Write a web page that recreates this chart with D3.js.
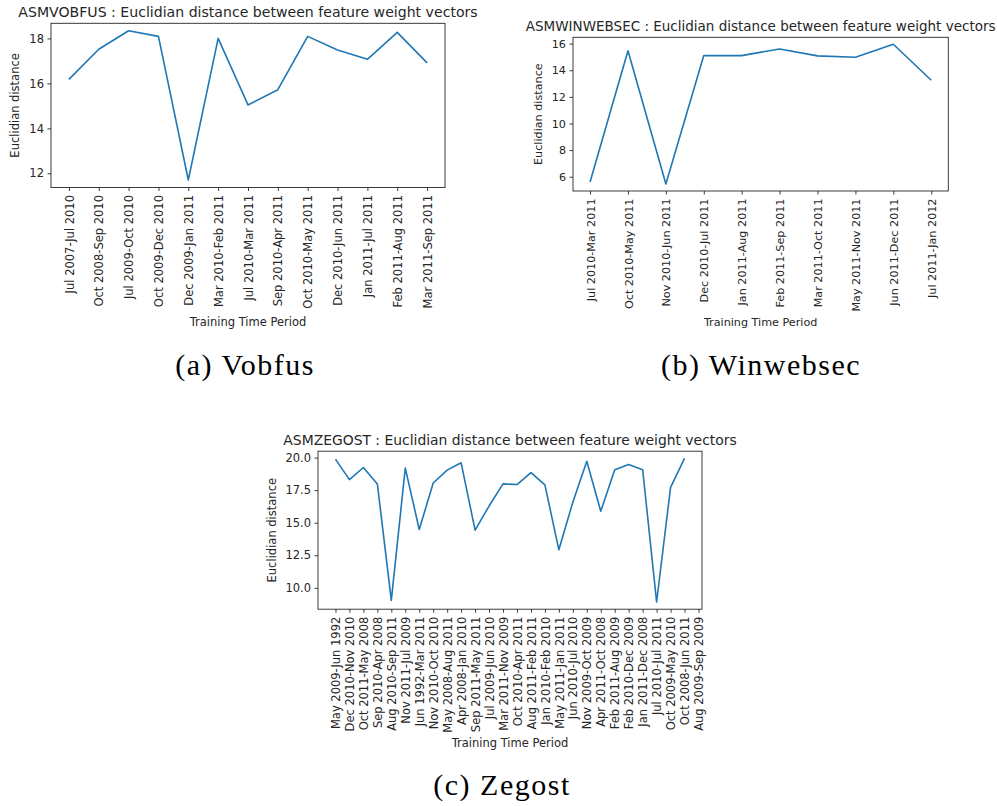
<!DOCTYPE html>
<html>
<head>
<meta charset="utf-8">
<script src="https://cdn.jsdelivr.net/npm/d3@7"></script>
<style>
body { margin:0; background:#fff; }
text { font-family: "DejaVu Sans", sans-serif; fill:#262626; }
.caption { font-family: "Liberation Serif", "DejaVu Serif", serif; fill:#000; }
</style>
</head>
<body>
<svg id="fig" width="997" height="806"></svg>
<script>
// values
var vobfusPeriods = ["Jul 2007-Jul 2010","Oct 2008-Sep 2010","Jul 2009-Oct 2010","Oct 2009-Dec 2010",
  "Dec 2009-Jan 2011","Mar 2010-Feb 2011","Jul 2010-Mar 2011","Sep 2010-Apr 2011","Oct 2010-May 2011",
  "Dec 2010-Jun 2011","Jan 2011-Jul 2011","Feb 2011-Aug 2011","Mar 2011-Sep 2011"];
var vobfusDistance = [16.18,17.52,18.34,18.09,11.70,18.0,15.04,15.72,18.09,17.48,17.07,18.27,16.91];
var vobfusTicks = [12,14,16,18];

var winwebsecPeriods = ["Jul 2010-Mar 2011","Oct 2010-May 2011","Nov 2010-Jun 2011","Dec 2010-Jul 2011",
  "Jan 2011-Aug 2011","Feb 2011-Sep 2011","Mar 2011-Oct 2011","May 2011-Nov 2011","Jun 2011-Dec 2011",
  "Jul 2011-Jan 2012"];
var winwebsecDistance = [5.6,15.46,5.45,15.1,15.1,15.6,15.08,14.98,15.95,13.25];
var winwebsecTicks = [6,8,10,12,14,16];

var zegostPeriods = ["May 2009-Jun 1992","Dec 2010-Nov 2010","Oct 2011-May 2008","Sep 2010-Apr 2008",
  "Aug 2010-Sep 2011","Nov 2011-Jul 2009","Jun 1992-Mar 2011","Nov 2010-Oct 2010","May 2008-Aug 2011",
  "Apr 2008-Jan 2010","Sep 2011-May 2011","Jul 2009-Jun 2010","Mar 2011-Nov 2009","Oct 2010-Apr 2011",
  "Aug 2011-Feb 2011","Jan 2010-Feb 2010","May 2011-Jan 2011","Jun 2010-Jul 2010","Nov 2009-Oct 2009",
  "Apr 2011-Oct 2008","Feb 2011-Aug 2009","Feb 2010-Dec 2009","Jan 2011-Dec 2008","Jul 2010-Jul 2011",
  "Oct 2009-May 2010","Oct 2008-Jun 2011","Aug 2009-Sep 2009"];
var zegostDistance = [19.88,18.31,19.24,17.98,9.04,19.19,14.48,18.05,19.04,19.6,14.43,16.28,17.98,
  17.93,18.84,17.9,12.92,16.58,19.72,15.88,19.07,19.47,19.07,8.91,17.72,19.94];
var zegostTicks = [10,12.5,15,17.5,20];

var svg = d3.select("#fig");

function drawPanel(o){
  var g = svg.append("g").attr("transform","translate("+o.left+","+o.top+")");
  var n = o.values.length-1;
  var pad = 0.05*n;
  var x = d3.scaleLinear()
    .domain([-pad, Math.max(n+pad, o.labels.length-1)])
    .range([0, o.width]);
  var ext = d3.extent(o.values);
  var ypad = 0.05*(ext[1]-ext[0]);
  var y = d3.scaleLinear().domain([ext[0]-ypad, ext[1]+ypad]).range([o.height, 0]);

  var line = d3.line()
    .x(function(d,i){ return x(i); })
    .y(function(d){ return y(d); });
  g.append("path")
    .datum(o.values)
    .attr("d", line)
    .attr("fill","none")
    .attr("stroke","#1f77b4")
    .attr("stroke-width",1.6)
    .attr("stroke-linejoin","round");

  var xAxis = g.append("g")
    .attr("transform","translate(0,"+o.height+")")
    .call(d3.axisBottom(x).tickValues(d3.range(o.labels.length))
      .tickFormat(function(i){ return o.labels[i]; }).tickSizeOuter(0).tickSize(3.5).tickPadding(3.5));
  xAxis.select(".domain").remove();
  xAxis.selectAll("line").attr("stroke","#262626").attr("stroke-width",0.9);
  xAxis.selectAll("text")
    .attr("font-family","DejaVu Sans").attr("font-size",o.fs).attr("fill","#262626")
    .attr("text-anchor","end")
    .attr("transform","rotate(-90)")
    .attr("x",-7.5).attr("y",0).attr("dy","0.36em");

  var yAxis = g.append("g")
    .call(d3.axisLeft(y).tickValues(o.ticks).tickFormat(o.fmt).tickSizeOuter(0).tickSize(3.5).tickPadding(3.5));
  yAxis.select(".domain").remove();
  yAxis.selectAll("line").attr("stroke","#262626").attr("stroke-width",0.9);
  yAxis.selectAll("text").attr("font-family","DejaVu Sans").attr("font-size",o.fs).attr("fill","#262626");

  g.append("rect")
    .attr("width",o.width).attr("height",o.height)
    .attr("fill","none").attr("stroke","#262626").attr("stroke-width",0.9);

  g.append("text")
    .attr("x",o.width/2).attr("y",-6.3)
    .attr("text-anchor","middle").attr("font-size",o.ts)
    .text(o.title);

  g.append("text")
    .attr("transform","translate("+(-o.ylabelOffset)+","+(o.height/2)+") rotate(-90)")
    .attr("text-anchor","middle").attr("font-size",o.fs)
    .text("Euclidian distance");

  g.append("text")
    .attr("x",o.width/2).attr("y",o.height+o.xlabelGap)
    .attr("text-anchor","middle").attr("font-size",o.fs)
    .text("Training Time Period");

  svg.append("text")
    .attr("class","caption")
    .attr("x",o.capX).attr("y",o.capY)
    .attr("text-anchor","middle").attr("font-size",30)
    .attr("letter-spacing","1.5px")
    .text(o.caption);
}

drawPanel({left:51, top:23.3, width:394, height:164.2, fs:11.5, ts:14.1,
  labels:vobfusPeriods, values:vobfusDistance, ticks:vobfusTicks, fmt:d3.format("d"),
  title:"ASMVOBFUS : Euclidian distance between feature weight vectors",
  ylabelOffset:32.5, xlabelGap:138.5, caption:"(a) Vobfus", capX:245, capY:375});

drawPanel({left:573, top:37.3, width:375.3, height:153.7, fs:11.2, ts:13.5,
  labels:winwebsecPeriods, values:winwebsecDistance, ticks:winwebsecTicks, fmt:d3.format("d"),
  title:"ASMWINWEBSEC : Euclidian distance between feature weight vectors",
  ylabelOffset:31, xlabelGap:134.7, caption:"(b) Winwebsec", capX:761, capY:375});

drawPanel({left:318, top:451.2, width:384, height:158, fs:11.5, ts:13.9,
  labels:zegostPeriods, values:zegostDistance, ticks:zegostTicks, fmt:d3.format(".1f"),
  title:"ASMZEGOST : Euclidian distance between feature weight vectors",
  ylabelOffset:42, xlabelGap:137.5, caption:"(c) Zegost", capX:502, capY:795});
</script>
</body>
</html>
